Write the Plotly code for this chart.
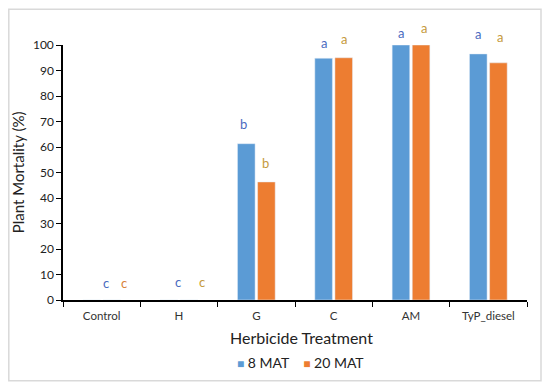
import plotly.graph_objects as go

categories = ["Control", "H", "G", "C", "AM", "TyP_diesel"]
mat8 = [0, 0, 61.3, 94.8, 100, 96.5]
mat20 = [0, 0, 46.3, 95.0, 100, 93.0]
letters8 = ["c", "c", "b", "a", "a", "a"]
letters20 = ["c", "c", "b", "a", "a", "a"]
# letter anchor: (offset within category, y value)
letter8_pos = [(0.06, 6.7), (-0.01, 6.9), (-0.17, 68.9), (-0.13, 100.7), (-0.13, 104.8), (-0.13, 104.4)]
letter20_pos = [(0.29, 6.7), (0.30, 6.9), (0.12, 53.6), (0.14, 102.4), (0.17, 106.7), (0.15, 103.0)]

FONT = "Lato, Open Sans, sans-serif"
BLUE = "#5B9BD5"
ORANGE = "#ED7D31"

# page body has an 8px margin; figure placed at (8,8)
OFF = 8
L, T, PW, PH = 63 - OFF, 44.5 - OFF, 464, 255.5
W, H = 534, 374


def py(ypx):
    return (300 - ypx) / PH


def px(xpx):
    return (xpx - 63) / PW


fig = go.Figure()
fig.add_trace(go.Bar(x=categories, y=mat8, name="8 MAT", marker_color=BLUE))
fig.add_trace(go.Bar(x=categories, y=mat20, name="20 MAT", marker_color=ORANGE))

ann = []
for i, (l, (dx, yv)) in enumerate(zip(letters8, letter8_pos)):
    ann.append(dict(x=i + dx, y=yv / 100, xref="x", yref="paper", text=l, showarrow=False,
                    xanchor="center", yanchor="middle",
                    font=dict(family=FONT, size=13, color="#4A6BC0")))
for i, (l, (dx, yv)) in enumerate(zip(letters20, letter20_pos)):
    ann.append(dict(x=i + dx, y=yv / 100, xref="x", yref="paper", text=l, showarrow=False,
                    xanchor="center", yanchor="middle",
                    font=dict(family=FONT, size=13, color="#C59A3C" if i > 0 else "#D9823A")))
ann.append(dict(x=px(301), y=py(337.5), xref="paper", yref="paper", text="Herbicide Treatment",
                xanchor="center", yanchor="middle",
                showarrow=False, font=dict(family=FONT, size=16, color="#222")))
ann.append(dict(x=px(18), y=py(172), xref="paper", yref="paper", text="Plant Mortality (%)",
                xanchor="center", yanchor="middle",
                textangle=-90, showarrow=False, font=dict(family=FONT, size=15, color="#222")))
ann.append(dict(x=px(300), y=py(363), xref="paper", yref="paper",
                xanchor="center", yanchor="middle",
                text=f"<span style='color:{BLUE};font-size:12px'>■</span> 8 MAT    <span style='color:{ORANGE};font-size:12px'>■</span> 20 MAT",
                showarrow=False, font=dict(family=FONT, size=14, color="#222")))

fig.update_layout(
    width=W, height=H,
    margin=dict(l=L, r=W - L - PW, t=T, b=H - T - PH, autoexpand=False),
    paper_bgcolor="white", plot_bgcolor="white",
    barmode="group", bargap=0.48, bargroupgap=0.125,
    font=dict(family=FONT, size=11, color="#333"),
    showlegend=False,
    annotations=ann,
    shapes=[dict(type="rect", xref="paper", yref="paper",
                 x0=px(8.8), x1=px(541), y0=py(381), y1=py(8.8),
                 line=dict(color="#D9D9D9", width=1.5), fillcolor="rgba(0,0,0,0)")],
)
fig.update_xaxes(showline=True, linecolor="#000", linewidth=1.5, ticks="outside", tickson="boundaries",
                 ticklen=5, tickcolor="#000", showgrid=False, ticklabelstandoff=4,
                 tickfont=dict(family=FONT, size=11.5, color="#333"))
fig.update_yaxes(range=[0, 100], dtick=10, showline=True, linecolor="#000", linewidth=1.5,
                 ticks="outside", ticklen=5, tickcolor="#000", showgrid=False, zeroline=False,
                 tickfont=dict(family=FONT, size=12, color="#222"))

fig.write_html("out.html")
